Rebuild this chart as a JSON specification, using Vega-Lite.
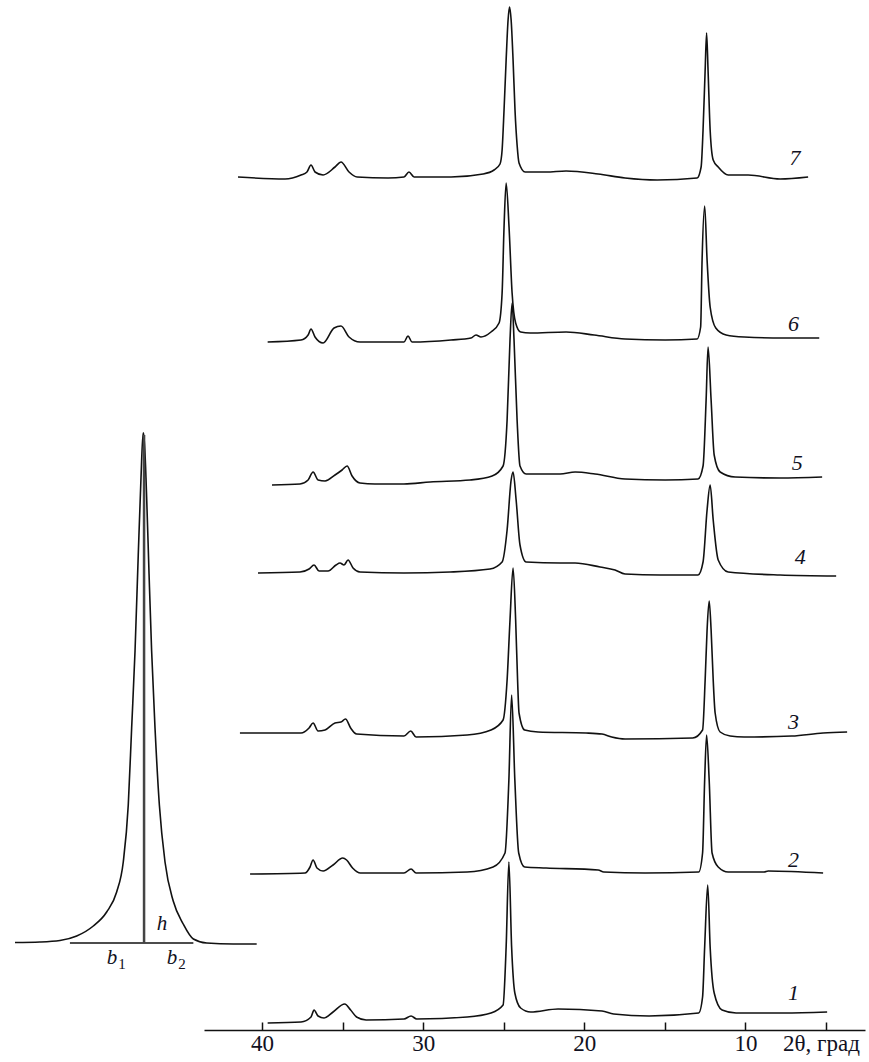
{
  "$schema": "https://vega.github.io/schema/vega-lite/v6.json",
  "width": 661,
  "height": 1030,
  "autosize": {"type": "none"},
  "padding": {"left": 204, "top": 0, "right": 4, "bottom": 32},
  "background": "white",
  "config": {"view": {"stroke": null}},
  "datasets": {
    "curves": [
      {"s":"7","t":41.49,"i":853},{"s":"7","t":38.57,"i":851},{"s":"7","t":37.58,"i":855},{"s":"7","t":37.21,"i":858},{"s":"7","t":36.96,"i":865},{"s":"7","t":36.71,"i":858},{"s":"7","t":36.21,"i":855},{"s":"7","t":35.47,"i":863},{"s":"7","t":35.10,"i":868},{"s":"7","t":34.60,"i":858},{"s":"7","t":34.10,"i":853},{"s":"7","t":32.18,"i":852},{"s":"7","t":31.19,"i":853},{"s":"7","t":30.88,"i":858},{"s":"7","t":30.56,"i":853},{"s":"7","t":28.27,"i":853},{"s":"7","t":26.28,"i":856},{"s":"7","t":25.60,"i":860},{"s":"7","t":25.23,"i":866},{"s":"7","t":25.10,"i":880},{"s":"7","t":24.98,"i":920},{"s":"7","t":24.85,"i":970},{"s":"7","t":24.73,"i":1010},{"s":"7","t":24.64,"i":1023},{"s":"7","t":24.54,"i":1010},{"s":"7","t":24.42,"i":970},{"s":"7","t":24.30,"i":920},{"s":"7","t":24.17,"i":885},{"s":"7","t":24.05,"i":867},{"s":"7","t":23.67,"i":858},{"s":"7","t":22.37,"i":858},{"s":"7","t":21.13,"i":859},{"s":"7","t":19.14,"i":856},{"s":"7","t":17.47,"i":852},{"s":"7","t":15.48,"i":850},{"s":"7","t":13.00,"i":852},{"s":"7","t":12.75,"i":863},{"s":"7","t":12.63,"i":900},{"s":"7","t":12.50,"i":960},{"s":"7","t":12.41,"i":997},{"s":"7","t":12.32,"i":960},{"s":"7","t":12.19,"i":900},{"s":"7","t":12.00,"i":870},{"s":"7","t":11.69,"i":863},{"s":"7","t":11.07,"i":855},{"s":"7","t":9.83,"i":855},{"s":"7","t":7.85,"i":851},{"s":"7","t":6.11,"i":853},

      {"s":"6","t":39.65,"i":688},{"s":"6","t":37.58,"i":690},{"s":"6","t":37.14,"i":695},{"s":"6","t":36.96,"i":701},{"s":"6","t":36.71,"i":693},{"s":"6","t":36.21,"i":687},{"s":"6","t":35.53,"i":702},{"s":"6","t":35.10,"i":704},{"s":"6","t":34.60,"i":693},{"s":"6","t":33.92,"i":688},{"s":"6","t":31.19,"i":688},{"s":"6","t":30.94,"i":694},{"s":"6","t":30.69,"i":688},{"s":"6","t":28.27,"i":690},{"s":"6","t":27.03,"i":692},{"s":"6","t":26.72,"i":695},{"s":"6","t":26.41,"i":693},{"s":"6","t":25.79,"i":698},{"s":"6","t":25.29,"i":707},{"s":"6","t":25.10,"i":737},{"s":"6","t":24.98,"i":803},{"s":"6","t":24.85,"i":847},{"s":"6","t":24.67,"i":803},{"s":"6","t":24.48,"i":737},{"s":"6","t":24.26,"i":707},{"s":"6","t":23.95,"i":698},{"s":"6","t":23.36,"i":697},{"s":"6","t":21.13,"i":698},{"s":"6","t":19.39,"i":695},{"s":"6","t":17.47,"i":691},{"s":"6","t":14.98,"i":690},{"s":"6","t":13.00,"i":691},{"s":"6","t":12.78,"i":703},{"s":"6","t":12.69,"i":770},{"s":"6","t":12.53,"i":824},{"s":"6","t":12.38,"i":770},{"s":"6","t":12.19,"i":723},{"s":"6","t":11.84,"i":702},{"s":"6","t":11.20,"i":695},{"s":"6","t":10.08,"i":693},{"s":"6","t":7.60,"i":692},{"s":"6","t":5.42,"i":692},

      {"s":"5","t":39.38,"i":545},{"s":"5","t":37.64,"i":546},{"s":"5","t":37.14,"i":550},{"s":"5","t":36.83,"i":558},{"s":"5","t":36.52,"i":550},{"s":"5","t":36.09,"i":549},{"s":"5","t":35.47,"i":555},{"s":"5","t":35.03,"i":560},{"s":"5","t":34.72,"i":564},{"s":"5","t":34.41,"i":554},{"s":"5","t":33.92,"i":547},{"s":"5","t":32.99,"i":546},{"s":"5","t":31.19,"i":546},{"s":"5","t":29.57,"i":548},{"s":"5","t":27.09,"i":550},{"s":"5","t":25.72,"i":554},{"s":"5","t":25.04,"i":564},{"s":"5","t":24.79,"i":610},{"s":"5","t":24.61,"i":690},{"s":"5","t":24.48,"i":727},{"s":"5","t":24.36,"i":690},{"s":"5","t":24.17,"i":610},{"s":"5","t":23.99,"i":564},{"s":"5","t":23.61,"i":556},{"s":"5","t":21.50,"i":556},{"s":"5","t":20.57,"i":558},{"s":"5","t":19.33,"i":556},{"s":"5","t":17.47,"i":551},{"s":"5","t":14.98,"i":550},{"s":"5","t":12.94,"i":551},{"s":"5","t":12.63,"i":564},{"s":"5","t":12.44,"i":630},{"s":"5","t":12.32,"i":683},{"s":"5","t":12.13,"i":630},{"s":"5","t":11.94,"i":575},{"s":"5","t":11.57,"i":558},{"s":"5","t":10.64,"i":553},{"s":"5","t":7.85,"i":552},{"s":"5","t":5.24,"i":553},

      {"s":"4","t":40.25,"i":457},{"s":"4","t":37.64,"i":458},{"s":"4","t":37.08,"i":461},{"s":"4","t":36.77,"i":465},{"s":"4","t":36.46,"i":459},{"s":"4","t":35.90,"i":459},{"s":"4","t":35.41,"i":465},{"s":"4","t":35.16,"i":467},{"s":"4","t":34.91,"i":465},{"s":"4","t":34.66,"i":470},{"s":"4","t":34.35,"i":462},{"s":"4","t":33.92,"i":458},{"s":"4","t":31.19,"i":457},{"s":"4","t":28.33,"i":458},{"s":"4","t":25.85,"i":461},{"s":"4","t":25.10,"i":468},{"s":"4","t":24.79,"i":500},{"s":"4","t":24.54,"i":550},{"s":"4","t":24.42,"i":558},{"s":"4","t":24.23,"i":530},{"s":"4","t":23.99,"i":485},{"s":"4","t":23.61,"i":468},{"s":"4","t":21.50,"i":467},{"s":"4","t":20.57,"i":467},{"s":"4","t":19.02,"i":463},{"s":"4","t":18.09,"i":460},{"s":"4","t":17.47,"i":456},{"s":"4","t":15.29,"i":455},{"s":"4","t":12.94,"i":455},{"s":"4","t":12.63,"i":468},{"s":"4","t":12.38,"i":520},{"s":"4","t":12.19,"i":545},{"s":"4","t":12.00,"i":510},{"s":"4","t":11.69,"i":470},{"s":"4","t":11.07,"i":458},{"s":"4","t":7.85,"i":455},{"s":"4","t":4.37,"i":454},

      {"s":"3","t":41.37,"i":297},{"s":"3","t":37.58,"i":297},{"s":"3","t":37.08,"i":302},{"s":"3","t":36.83,"i":307},{"s":"3","t":36.52,"i":299},{"s":"3","t":36.09,"i":300},{"s":"3","t":35.47,"i":307},{"s":"3","t":35.10,"i":308},{"s":"3","t":34.82,"i":311},{"s":"3","t":34.50,"i":302},{"s":"3","t":34.13,"i":296},{"s":"3","t":31.19,"i":294},{"s":"3","t":30.77,"i":299},{"s":"3","t":30.44,"i":293},{"s":"3","t":27.27,"i":295},{"s":"3","t":25.79,"i":300},{"s":"3","t":25.04,"i":310},{"s":"3","t":24.79,"i":350},{"s":"3","t":24.61,"i":410},{"s":"3","t":24.42,"i":462},{"s":"3","t":24.26,"i":410},{"s":"3","t":24.14,"i":350},{"s":"3","t":24.05,"i":317},{"s":"3","t":23.70,"i":300},{"s":"3","t":22.87,"i":298},{"s":"3","t":19.89,"i":297},{"s":"3","t":18.90,"i":296},{"s":"3","t":18.30,"i":293},{"s":"3","t":17.47,"i":291},{"s":"3","t":13.27,"i":292},{"s":"3","t":12.66,"i":300},{"s":"3","t":12.50,"i":350},{"s":"3","t":12.38,"i":400},{"s":"3","t":12.25,"i":429},{"s":"3","t":12.13,"i":400},{"s":"3","t":12.00,"i":350},{"s":"3","t":11.88,"i":317},{"s":"3","t":11.57,"i":298},{"s":"3","t":10.95,"i":294},{"s":"3","t":10.08,"i":293},{"s":"3","t":7.13,"i":294},{"s":"3","t":5.18,"i":297},{"s":"3","t":3.69,"i":298},

      {"s":"2","t":40.74,"i":156},{"s":"2","t":37.33,"i":157},{"s":"2","t":37.02,"i":163},{"s":"2","t":36.83,"i":170},{"s":"2","t":36.59,"i":162},{"s":"2","t":36.21,"i":159},{"s":"2","t":35.59,"i":165},{"s":"2","t":34.99,"i":172},{"s":"2","t":34.75,"i":170},{"s":"2","t":34.38,"i":162},{"s":"2","t":33.89,"i":157},{"s":"2","t":31.19,"i":157},{"s":"2","t":30.75,"i":161},{"s":"2","t":30.44,"i":157},{"s":"2","t":27.27,"i":158},{"s":"2","t":25.66,"i":163},{"s":"2","t":24.92,"i":177},{"s":"2","t":24.68,"i":250},{"s":"2","t":24.51,"i":335},{"s":"2","t":24.31,"i":250},{"s":"2","t":24.07,"i":177},{"s":"2","t":23.70,"i":163},{"s":"2","t":22.37,"i":162},{"s":"2","t":19.14,"i":160},{"s":"2","t":18.79,"i":158},{"s":"2","t":16.23,"i":157},{"s":"2","t":12.90,"i":158},{"s":"2","t":12.66,"i":177},{"s":"2","t":12.53,"i":250},{"s":"2","t":12.41,"i":295},{"s":"2","t":12.25,"i":250},{"s":"2","t":12.07,"i":177},{"s":"2","t":11.69,"i":163},{"s":"2","t":11.07,"i":158},{"s":"2","t":8.84,"i":158},{"s":"2","t":8.59,"i":159},{"s":"2","t":5.18,"i":157},

      {"s":"1","t":39.65,"i":7},{"s":"1","t":37.58,"i":8},{"s":"1","t":36.96,"i":13},{"s":"1","t":36.77,"i":20},{"s":"1","t":36.52,"i":14},{"s":"1","t":36.15,"i":12},{"s":"1","t":35.59,"i":18},{"s":"1","t":34.87,"i":26},{"s":"1","t":34.50,"i":20},{"s":"1","t":34.13,"i":13},{"s":"1","t":33.54,"i":10},{"s":"1","t":31.19,"i":11},{"s":"1","t":30.75,"i":14},{"s":"1","t":30.40,"i":11},{"s":"1","t":27.27,"i":13},{"s":"1","t":25.79,"i":17},{"s":"1","t":25.04,"i":25},{"s":"1","t":24.85,"i":83},{"s":"1","t":24.68,"i":168},{"s":"1","t":24.51,"i":83},{"s":"1","t":24.31,"i":37},{"s":"1","t":23.95,"i":22},{"s":"1","t":23.33,"i":18},{"s":"1","t":21.63,"i":21},{"s":"1","t":18.90,"i":19},{"s":"1","t":18.18,"i":16},{"s":"1","t":15.98,"i":14},{"s":"1","t":12.90,"i":17},{"s":"1","t":12.66,"i":33},{"s":"1","t":12.53,"i":83},{"s":"1","t":12.34,"i":145},{"s":"1","t":12.19,"i":83},{"s":"1","t":11.94,"i":37},{"s":"1","t":11.45,"i":20},{"s":"1","t":10.58,"i":17},{"s":"1","t":7.62,"i":17},{"s":"1","t":4.93,"i":18}
    ],
    "labels": [
      {"label":"7","t":6.92,"i":872},
      {"label":"6","t":7.01,"i":706},
      {"label":"5","t":6.79,"i":567},
      {"label":"4","t":6.60,"i":473},
      {"label":"3","t":7.01,"i":308},
      {"label":"2","t":7.01,"i":170},
      {"label":"1","t":7.01,"i":37}
    ],
    "inset": [
      {"t":55.33,"i":87.5},{"t":53.78,"i":88},{"t":52.54,"i":89.5},{"t":51.50,"i":94},{"t":50.47,"i":104},{"t":49.64,"i":118},{"t":49.02,"i":138},{"t":48.61,"i":168},{"t":48.30,"i":225},{"t":48.09,"i":302},{"t":47.88,"i":379},{"t":47.68,"i":475},{"t":47.51,"i":552},{"t":47.38,"i":597},{"t":47.34,"i":597},{"t":47.16,"i":533},{"t":47.01,"i":456},{"t":46.85,"i":379},{"t":46.64,"i":302},{"t":46.37,"i":225},{"t":46.02,"i":168},{"t":45.51,"i":129},{"t":44.89,"i":106},{"t":44.26,"i":91},{"t":43.43,"i":87},{"t":41.78,"i":86},{"t":40.33,"i":86}
    ],
    "chord": [{"t":51.92,"t2":44.26,"i":87,"i2":87}],
    "height": [{"t":47.32,"t2":47.32,"i":87,"i2":595}],
    "insetItalic": [
      {"txt":"h","t":46.21,"i":106},
      {"txt":"b","t":49.31,"i":72},
      {"txt":"b","t":45.59,"i":72}
    ],
    "insetSub": [
      {"txt":"1","t":48.69,"i":66},
      {"txt":"2","t":44.97,"i":66}
    ]
  },
  "encoding": {
    "x": {
      "field": "t",
      "type": "quantitative",
      "scale": {"domain": [2.58, 43.6], "reverse": true, "nice": false, "zero": false},
      "axis": {
        "values": [40, 35, 30, 25, 20, 15, 10, 5],
        "labelExpr": "datum.value % 10 === 0 ? datum.label : ''",
        "grid": false,
        "domainColor": "#111",
        "domainWidth": 1.5,
        "tickColor": "#111",
        "tickWidth": 1.5,
        "tickSize": -8,
        "labelPadding": 21,
        "labelBaseline": "middle",
        "labelFont": "Liberation Serif",
        "labelFontSize": 23,
        "labelColor": "#111122",
        "labelOverlap": false,
        "labelFlush": false,
        "title": "2θ, град",
        "titleFont": "Liberation Serif",
        "titleFontSize": 23,
        "titleFontWeight": "normal",
        "titleColor": "#111122",
        "titleX": 617,
        "titleY": 13,
        "titleAlign": "center",
        "titleBaseline": "middle",
        "titleAngle": 0
      }
    },
    "y": {
      "field": "i",
      "type": "quantitative",
      "scale": {"domain": [0, 1030], "nice": false, "zero": false},
      "axis": null
    }
  },
  "layer": [
    {
      "data": {"name": "curves"},
      "mark": {"type": "line", "color": "#111", "strokeWidth": 1.6, "interpolate": "monotone"},
      "encoding": {"detail": {"field": "s", "type": "nominal"}}
    },
    {
      "data": {"name": "labels"},
      "mark": {"type": "text", "font": "Liberation Serif", "fontStyle": "italic", "fontSize": 22, "color": "#111122", "align": "center", "baseline": "middle"},
      "encoding": {"text": {"field": "label", "type": "nominal"}}
    },
    {
      "data": {"name": "inset"},
      "mark": {"type": "line", "color": "#111", "strokeWidth": 1.6, "interpolate": "monotone"},
      "encoding": {}
    },
    {
      "data": {"name": "chord"},
      "mark": {"type": "rule", "color": "#111", "strokeWidth": 1.5},
      "encoding": {"x2": {"field": "t2"}, "y2": {"field": "i2"}}
    },
    {
      "data": {"name": "height"},
      "mark": {"type": "rule", "color": "#444", "strokeWidth": 2.5},
      "encoding": {"x2": {"field": "t2"}, "y2": {"field": "i2"}}
    },
    {
      "data": {"name": "insetItalic"},
      "mark": {"type": "text", "font": "Liberation Serif", "fontStyle": "italic", "fontSize": 21, "color": "#111122", "align": "center", "baseline": "middle"},
      "encoding": {"text": {"field": "txt", "type": "nominal"}}
    },
    {
      "data": {"name": "insetSub"},
      "mark": {"type": "text", "font": "Liberation Serif", "fontSize": 15, "color": "#111122", "align": "center", "baseline": "middle"},
      "encoding": {"text": {"field": "txt", "type": "nominal"}}
    }
  ]
}
